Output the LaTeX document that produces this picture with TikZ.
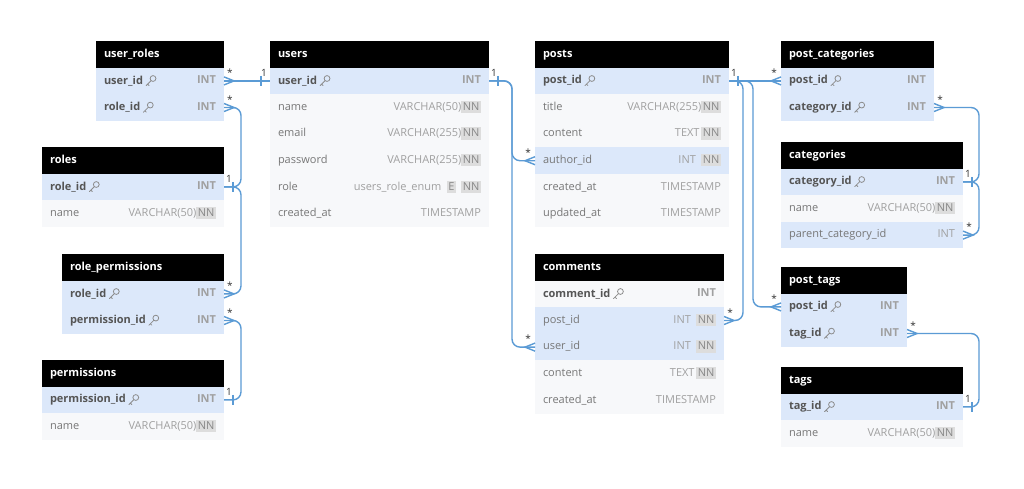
\documentclass[tikz,border=0pt]{standalone}
\usepackage{fontspec}
\setmainfont{Open Sans}
\usetikzlibrary{positioning}

\definecolor{relc}{HTML}{5B9BD5}
\definecolor{pkfill}{HTML}{DCE8FA}
\definecolor{plfill}{HTML}{F7F8FA}
\definecolor{pkname}{HTML}{555555}
\definecolor{colname}{HTML}{777777}
\definecolor{typec}{HTML}{A0A0A0}
\definecolor{nnbg}{HTML}{DDDDDD}
\definecolor{nntx}{HTML}{888888}
\definecolor{keyc}{HTML}{8C8C8C}

\newcommand\tabfont{\fontsize{11}{13}\selectfont}
\newcommand\badge[1]{{\setlength\fboxsep{1.5pt}\colorbox{nnbg}{\rule[-1.5pt]{0pt}{9.5pt}\textcolor{nntx}{#1}}}}
\newcommand\nn{\badge{NN}}

\tikzset{
  head/.style={fill=black, text=white, font=\tabfont\bfseries, anchor=north west,
    minimum height=26.6pt, inner xsep=8pt, inner ysep=0pt, outer sep=0pt,
    text height=8pt, text depth=2.5pt},
  row/.style={minimum height=26.6pt, inner xsep=8pt, inner ysep=0pt, outer sep=0pt,
    text=typec, text height=8pt, text depth=2.5pt},
  pkcol/.style={inner sep=0pt, outer sep=0pt, text=pkname, font=\tabfont\bfseries},
  rel/.style={draw=relc, line width=1.4pt, rounded corners=8pt},
  card/.style={inner sep=0pt, text=black!80, font=\fontsize{10}{11}\selectfont},
  key/.pic={
    \draw[keyc, line width=0.8pt, line cap=round] (0,4.8) -- (5,-0.2) (1.6,3.2) -- (3.1,4.7);
    \draw[keyc, line width=0.8pt] (7,-2.4) circle (2.9);
  },
  many r/.pic={\draw[rel, sharp corners] (0,-4) -- (10,0) -- (0,4); \node[card] (-s) at (6,-8) {*};},
  many l/.pic={\draw[rel, sharp corners] (0,-4) -- (-10,0) -- (0,4); \node[card] (-s) at (-7,-8) {*};},
  one r/.pic={\draw[rel, sharp corners] (9,-5) -- (9,5); \node[card] (-n) at (5,-8) {1};},
  one l/.pic={\draw[rel, sharp corners] (-9,-5) -- (-9,5); \node[card] (-n) at (-6,-8) {1};},
}

% key column: fill, node, above, width, column, type
\newcommand\keyrow[6][pkfill]{%
  \node[row, fill=#1, below=0pt of #3] (#2) {\hbox to #4pt{\hfill\bfseries #6}};
  \node[pkcol, right=8pt of #2.west] (#2-c) {#5};
  \pic at ([xshift=3pt]#2-c.east) {key};
}
% plain column: fill, node, above, width, column, type
\newcommand\plainrow[6][plfill]{%
  \node[row, fill=#1, below=0pt of #3] (#2) {\hbox to #4pt{\textcolor{colname}{#5}\hfill #6}};
}

\begin{document}
\begin{tikzpicture}[x=1pt, y=-1pt, font=\tabfont]
\fill[white] (0,0) rectangle (1024,488);
\useasboundingbox (0,0) rectangle (1024,488);

% user_roles
\node[head] (ur) at (96,41) {\hbox to 112pt{user\_roles\hfill}};
\keyrow{ur-uid}{ur}{112}{user\_id}{INT}
\keyrow{ur-rid}{ur-uid}{112}{role\_id}{INT}

% users
\node[head] (us) at (270,41) {\hbox to 203pt{users\hfill}};
\keyrow{us-uid}{us}{203}{user\_id}{INT}
\plainrow{us-name}{us-uid}{203}{name}{VARCHAR(50)\nn}
\plainrow{us-mail}{us-name}{203}{email}{VARCHAR(255)\nn}
\plainrow{us-pw}{us-mail}{203}{password}{VARCHAR(255)\nn}
\plainrow{us-role}{us-pw}{203}{role}{users\_role\_enum\enspace\badge{E}\enspace\nn}
\plainrow{us-cat}{us-role}{203}{created\_at}{TIMESTAMP}

% posts
\node[head] (po) at (535,41) {\hbox to 178pt{posts\hfill}};
\keyrow{po-pid}{po}{178}{post\_id}{INT}
\plainrow{po-title}{po-pid}{178}{title}{VARCHAR(255)\nn}
\plainrow{po-cont}{po-title}{178}{content}{TEXT\,\nn}
\plainrow[pkfill]{po-aid}{po-cont}{178}{author\_id}{INT\enspace\nn}
\plainrow{po-cat}{po-aid}{178}{created\_at}{TIMESTAMP}
\plainrow{po-uat}{po-cat}{178}{updated\_at}{TIMESTAMP}

% post_categories
\node[head] (pc) at (781,41) {\hbox to 137pt{post\_categories\hfill}};
\keyrow{pc-pid}{pc}{137}{post\_id}{INT}
\keyrow{pc-cid}{pc-pid}{137}{category\_id}{INT}

% categories
\node[head] (ca) at (781,142) {\hbox to 166pt{categories\hfill}};
\keyrow{ca-cid}{ca}{166}{category\_id}{INT}
\plainrow{ca-name}{ca-cid}{166}{name}{VARCHAR(50)\nn}
\plainrow[pkfill]{ca-pcid}{ca-name}{166}{parent\_category\_id}{INT}

% roles
\node[head] (ro) at (42,147) {\hbox to 166pt{roles\hfill}};
\keyrow{ro-rid}{ro}{166}{role\_id}{INT}
\plainrow{ro-name}{ro-rid}{166}{name}{VARCHAR(50)\nn}

% role_permissions
\node[head] (rp) at (62,254) {\hbox to 146pt{role\_permissions\hfill}};
\keyrow{rp-rid}{rp}{146}{role\_id}{INT}
\keyrow{rp-pid}{rp-rid}{146}{permission\_id}{INT}

% permissions
\node[head] (pe) at (42,360) {\hbox to 166pt{permissions\hfill}};
\keyrow{pe-pid}{pe}{166}{permission\_id}{INT}
\plainrow{pe-name}{pe-pid}{166}{name}{VARCHAR(50)\nn}

% comments
\node[head] (co) at (535,254) {\hbox to 173pt{comments\hfill}};
\keyrow[plfill]{co-cid}{co}{173}{comment\_id}{INT}
\plainrow[pkfill]{co-pid}{co-cid}{173}{post\_id}{INT\enspace\nn}
\plainrow[pkfill]{co-uid}{co-pid}{173}{user\_id}{INT\enspace\nn}
\plainrow{co-cont}{co-uid}{173}{content}{TEXT\,\nn}
\plainrow{co-cat}{co-cont}{173}{created\_at}{TIMESTAMP}

% post_tags
\node[head] (pt) at (781,267) {\hbox to 110pt{post\_tags\hfill}};
\keyrow{pt-pid}{pt}{110}{post\_id}{INT}
\keyrow{pt-tid}{pt-pid}{110}{tag\_id}{INT}

% tags
\node[head] (ta) at (781,367) {\hbox to 166pt{tags\hfill}};
\keyrow{ta-tid}{ta}{166}{tag\_id}{INT}
\plainrow{ta-name}{ta-tid}{166}{name}{VARCHAR(50)\nn}

% relations
\draw[rel] (ur-uid.east) -- (us-uid.west);
\pic (a1) at (ur-uid.east) {many r};
\pic (a2) at (us-uid.west) {one l};

\draw[rel] (ur-rid.east) -- ++(17,0) |- (ro-rid.east);
\draw[rel] (rp-rid.east) -- ++(17,0) |- (ro-rid.east);
\pic (b1) at (ur-rid.east) {many r};
\pic (b2) at (rp-rid.east) {many r};
\pic (b3) at (ro-rid.east) {one r};

\draw[rel] (rp-pid.east) -- ++(17,0) |- (pe-pid.east);
\pic (c1) at (rp-pid.east) {many r};
\pic (c2) at (pe-pid.east) {one r};

\draw[rel] (us-uid.east) -- ++(23,0) |- (po-aid.west);
\draw[rel] (us-uid.east) -- ++(23,0) |- (co-uid.west);
\pic (d1) at (us-uid.east) {one r};
\pic (d2) at (po-aid.west) {many l};
\pic (d3) at (co-uid.west) {many l};

\draw[rel] (po-pid.east) -- (pc-pid.west);
\draw[rel] (po-pid.east) -- ++(14,0) |- (co-pid.east);
\draw[rel] (po-pid.east) -- ++(24,0) |- (pt-pid.west);
\pic (e1) at (po-pid.east) {one r};
\pic (e2) at (pc-pid.west) {many l};
\pic (e3) at (co-pid.east) {many r};
\pic (e4) at (pt-pid.west) {many l};

\draw[rel] (pc-cid.east) -- ++(45,0) |- (ca-cid.east);
\draw[rel] (ca-pcid.east) -- ++(16,0) |- (ca-cid.east);
\pic (f1) at (pc-cid.east) {many r};
\pic (f2) at (ca-pcid.east) {many r};
\pic (f3) at (ca-cid.east) {one r};

\draw[rel] (pt-tid.east) -- ++(72,0) |- (ta-tid.east);
\pic (g1) at (pt-tid.east) {many r};
\pic (g2) at (ta-tid.east) {one r};
\end{tikzpicture}
\end{document}
